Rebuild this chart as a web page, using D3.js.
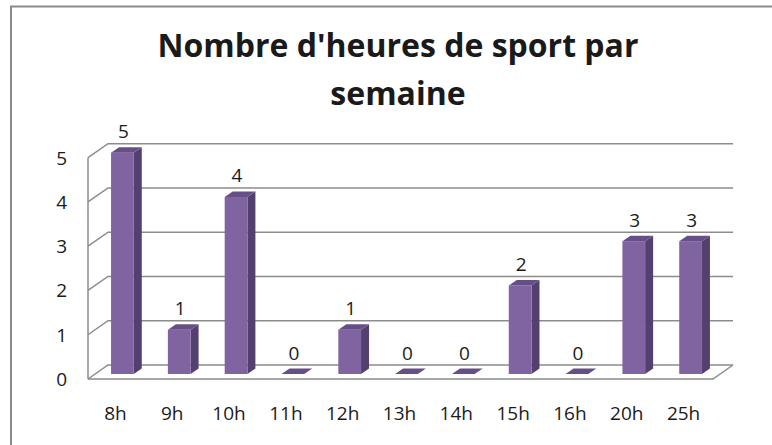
<!DOCTYPE html>
<html>
<head>
<meta charset="utf-8">
<script src="https://cdn.jsdelivr.net/npm/d3@7"></script>
<style>
  body { margin: 0; background: #fff; }
  svg { display: block; }
  text { font-family: "Open Sans", sans-serif; fill: #1a1a1a; }
</style>
</head>
<body>
<div id="chart"></div>
<script>
var categories = ["8h", "9h", "10h", "11h", "12h", "13h", "14h", "15h", "16h", "20h", "25h"];
var counts = [5, 1, 4, 0, 1, 0, 0, 2, 0, 3, 3];
var yTicks = [0, 1, 2, 3, 4, 5];
var titleLines = ["Nombre d'heures de sport par", "semaine"];

var w = 772;
var h = 445;

// offset of the back wall relative to the front edge of the floor
var depthX = 20, depthY = -14;
// bars sit a little behind the front edge
var barOffX = 6, barOffY = -5;
var barDepthX = 8, barDepthY = -5.5;

var svg = d3.select("#chart")
            .append("svg")
            .attr("width", w)
            .attr("height", h);

// chart frame (cropped at right and bottom)
svg.append("path")
    .attr("d", "M11,445 V6.5 H772")
    .attr("fill", "none")
    .attr("stroke", "#8a8a8a")
    .attr("stroke-width", 2);

// title
svg.selectAll("text.title")
    .data(titleLines)
    .enter()
    .append("text")
    .attr("class", "title")
    .attr("x", 398)
    .attr("y", function(d, i) { return 57 + i * 48; })
    .attr("text-anchor", "middle")
    .style("font-weight", "bold")
    .style("font-size", "32px")
    .text(function(d) { return d; });

var x = d3.scaleBand()
    .domain(categories)
    .range([88, 713]);

var y = d3.scaleLinear()
    .domain([0, 5])
    .range([379, 157.7]);

var grid = svg.append("g")
    .attr("fill", "none")
    .attr("stroke", "#8c8c8c")
    .attr("stroke-width", 1.5);

// back wall gridlines + left wall diagonals
grid.selectAll("path.grid")
    .data(yTicks)
    .enter()
    .append("path")
    .attr("d", function(d) {
        var x0 = x.range()[0], x1 = x.range()[1];
        return "M" + x0 + "," + y(d) +
               " L" + (x0 + depthX) + "," + (y(d) + depthY) +
               " H" + (x1 + depthX);
    });

// left wall front edge
grid.append("line")
    .attr("x1", x.range()[0]).attr("x2", x.range()[0])
    .attr("y1", y(5)).attr("y2", y(0));

// floor front edge and right diagonal
grid.append("path")
    .attr("d", "M" + x.range()[0] + "," + y(0) +
               " H" + x.range()[1] +
               " L" + (x.range()[1] + depthX) + "," + (y(0) + depthY));

// y axis labels
svg.selectAll("text.ytick")
    .data(yTicks)
    .enter()
    .append("text")
    .attr("class", "ytick")
    .attr("x", 67)
    .attr("y", function(d) { return y(d) + 7; })
    .attr("text-anchor", "end")
    .style("font-size", "19px")
    .text(function(d) { return d; });

// x axis labels
svg.selectAll("text.xtick")
    .data(categories)
    .enter()
    .append("text")
    .attr("class", "xtick")
    .attr("x", function(d) { return x(d) + x.bandwidth() / 2 - 1; })
    .attr("y", 420)
    .attr("text-anchor", "middle")
    .style("font-size", "19px")
    .text(function(d) { return d; });

var barW = x.bandwidth() * 0.4;
function bx(i) { return x(categories[i]) + (x.bandwidth() - barW) / 2 + barOffX; }
function by(v) { return y(v) + barOffY; }

var bars = svg.selectAll("g.bar")
    .data(counts)
    .enter()
    .append("g")
    .attr("class", "bar");

// side face
bars.append("path")
    .attr("fill", "#54406e")
    .attr("d", function(d, i) {
        var x1 = bx(i) + barW;
        return "M" + x1 + "," + by(0) +
               " L" + x1 + "," + by(d) +
               " L" + (x1 + barDepthX) + "," + (by(d) + barDepthY) +
               " L" + (x1 + barDepthX) + "," + (by(0) + barDepthY) + " Z";
    });

// front face
bars.append("rect")
    .attr("fill", "#8064a2")
    .attr("x", function(d, i) { return bx(i); })
    .attr("y", function(d) { return by(d); })
    .attr("width", barW)
    .attr("height", function(d) { return by(0) - by(d); });

// top face
bars.append("path")
    .attr("fill", "#664f85")
    .attr("d", function(d, i) {
        var x0 = bx(i);
        return "M" + x0 + "," + by(d) +
               " L" + (x0 + barW) + "," + by(d) +
               " L" + (x0 + barW + barDepthX) + "," + (by(d) + barDepthY) +
               " L" + (x0 + barDepthX) + "," + (by(d) + barDepthY) + " Z";
    });

// data labels
svg.selectAll("text.value")
    .data(counts)
    .enter()
    .append("text")
    .attr("class", "value")
    .attr("x", function(d, i) { return bx(i) + barW / 2 + 1; })
    .attr("y", function(d) { return by(d) + barDepthY - 9; })
    .attr("text-anchor", "middle")
    .style("font-size", "19px")
    .text(function(d) { return d; });
</script>
</body>
</html>
